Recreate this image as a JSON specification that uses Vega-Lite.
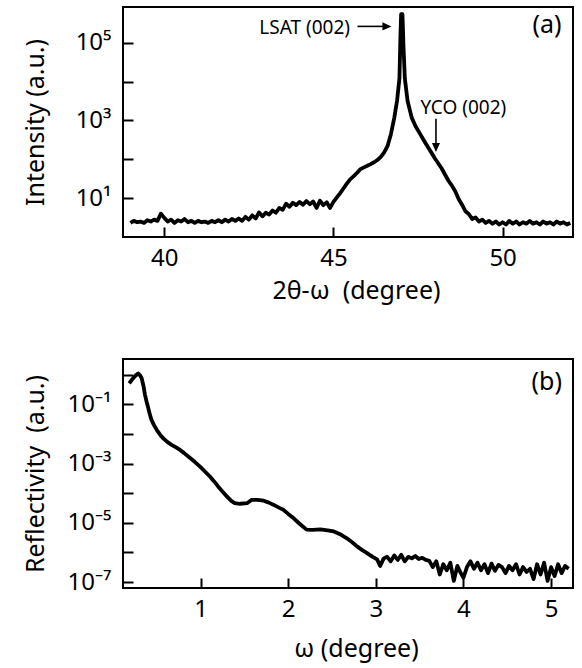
{
  "$schema": "https://vega.github.io/schema/vega-lite/v6.json",
  "background": "white",
  "padding": {"left": 22, "top": 6, "right": 5, "bottom": 5},
  "spacing": 54,
  "config": {
    "font": "Noto Sans",
    "view": {"stroke": "black", "strokeWidth": 2},
    "axis": {
      "domain": false,
      "grid": false,
      "ticks": true,
      "tickSize": 10,
      "tickWidth": 2,
      "tickColor": "black",
      "offset": -10,
      "labelColor": "black",
      "labelFont": "Noto Sans",
      "labelFontSize": 24,
      "labelOverlap": false,
      "labelFlush": false,
      "titleFont": "Noto Sans",
      "titleFontSize": 25,
      "titleFontWeight": "normal",
      "titleColor": "black",
      "zindex": 1
    },
    "axisX": {"labelBaseline": "alphabetic", "labelPadding": 28},
    "axisY": {"labelBaseline": "middle", "labelPadding": 12}
  },
  "datasets": {
    "xrd": [
      {"x": 39.0, "y": 2.3}, {"x": 39.1, "y": 2.6}, {"x": 39.2, "y": 2.4}, {"x": 39.3, "y": 2.5}, {"x": 39.4, "y": 2.3},
      {"x": 39.5, "y": 2.7}, {"x": 39.6, "y": 2.5}, {"x": 39.7, "y": 2.8}, {"x": 39.8, "y": 2.6}, {"x": 39.9, "y": 4.0},
      {"x": 40.0, "y": 3.1}, {"x": 40.1, "y": 2.5}, {"x": 40.2, "y": 2.8}, {"x": 40.3, "y": 2.3}, {"x": 40.4, "y": 2.7},
      {"x": 40.5, "y": 2.5}, {"x": 40.6, "y": 2.9}, {"x": 40.7, "y": 2.4}, {"x": 40.8, "y": 2.6}, {"x": 40.9, "y": 2.3},
      {"x": 41.0, "y": 2.6}, {"x": 41.1, "y": 2.4}, {"x": 41.2, "y": 2.5}, {"x": 41.3, "y": 2.3}, {"x": 41.4, "y": 2.6},
      {"x": 41.5, "y": 2.4}, {"x": 41.6, "y": 2.7}, {"x": 41.7, "y": 2.4}, {"x": 41.8, "y": 2.8}, {"x": 41.9, "y": 2.5},
      {"x": 42.0, "y": 2.9}, {"x": 42.1, "y": 2.6}, {"x": 42.2, "y": 3.0}, {"x": 42.3, "y": 2.6}, {"x": 42.4, "y": 3.3},
      {"x": 42.5, "y": 2.8}, {"x": 42.6, "y": 3.6}, {"x": 42.7, "y": 3.0}, {"x": 42.8, "y": 4.3}, {"x": 42.9, "y": 3.4},
      {"x": 43.0, "y": 4.2}, {"x": 43.1, "y": 3.8}, {"x": 43.2, "y": 4.8}, {"x": 43.3, "y": 4.2}, {"x": 43.4, "y": 5.6},
      {"x": 43.5, "y": 5.0}, {"x": 43.6, "y": 7.2}, {"x": 43.7, "y": 6.0}, {"x": 43.8, "y": 7.6}, {"x": 43.9, "y": 6.6},
      {"x": 44.0, "y": 8.0}, {"x": 44.1, "y": 6.8}, {"x": 44.2, "y": 8.4}, {"x": 44.3, "y": 7.0}, {"x": 44.4, "y": 8.2},
      {"x": 44.5, "y": 5.6}, {"x": 44.6, "y": 8.6}, {"x": 44.7, "y": 6.6}, {"x": 44.8, "y": 7.8}, {"x": 44.9, "y": 5.6},
      {"x": 45.0, "y": 8.0}, {"x": 45.1, "y": 10.5}, {"x": 45.2, "y": 13.5}, {"x": 45.3, "y": 18}, {"x": 45.4, "y": 24},
      {"x": 45.5, "y": 31}, {"x": 45.6, "y": 37}, {"x": 45.7, "y": 45}, {"x": 45.8, "y": 56}, {"x": 45.9, "y": 62},
      {"x": 46.0, "y": 68}, {"x": 46.1, "y": 75}, {"x": 46.2, "y": 84}, {"x": 46.3, "y": 96}, {"x": 46.4, "y": 115},
      {"x": 46.5, "y": 150}, {"x": 46.6, "y": 220}, {"x": 46.7, "y": 450}, {"x": 46.8, "y": 1200}, {"x": 46.88, "y": 3200},
      {"x": 46.95, "y": 12000}, {"x": 46.98, "y": 150000}, {"x": 47.0, "y": 540000}, {"x": 47.04, "y": 540000}, {"x": 47.07, "y": 80000},
      {"x": 47.11, "y": 12000}, {"x": 47.19, "y": 3200}, {"x": 47.31, "y": 1200}, {"x": 47.43, "y": 700}, {"x": 47.56, "y": 450},
      {"x": 47.7, "y": 280}, {"x": 47.86, "y": 165}, {"x": 48.0, "y": 105}, {"x": 48.1, "y": 78}, {"x": 48.2, "y": 58},
      {"x": 48.3, "y": 40}, {"x": 48.4, "y": 28}, {"x": 48.5, "y": 21}, {"x": 48.6, "y": 15}, {"x": 48.7, "y": 9.5},
      {"x": 48.8, "y": 6.8}, {"x": 48.9, "y": 4.6}, {"x": 49.0, "y": 3.9}, {"x": 49.1, "y": 2.9}, {"x": 49.2, "y": 3.2},
      {"x": 49.3, "y": 2.5}, {"x": 49.4, "y": 2.8}, {"x": 49.5, "y": 2.3}, {"x": 49.6, "y": 2.6}, {"x": 49.7, "y": 2.2},
      {"x": 49.8, "y": 2.5}, {"x": 49.9, "y": 2.1}, {"x": 50.0, "y": 2.4}, {"x": 50.1, "y": 2.1}, {"x": 50.2, "y": 2.6},
      {"x": 50.3, "y": 2.2}, {"x": 50.4, "y": 2.5}, {"x": 50.5, "y": 2.1}, {"x": 50.6, "y": 2.4}, {"x": 50.7, "y": 2.2},
      {"x": 50.8, "y": 2.6}, {"x": 50.9, "y": 2.2}, {"x": 51.0, "y": 2.4}, {"x": 51.1, "y": 2.1}, {"x": 51.2, "y": 2.5},
      {"x": 51.3, "y": 2.2}, {"x": 51.4, "y": 2.4}, {"x": 51.5, "y": 2.1}, {"x": 51.6, "y": 2.5}, {"x": 51.7, "y": 2.2},
      {"x": 51.8, "y": 2.4}, {"x": 51.9, "y": 2.1}, {"x": 52.0, "y": 2.3}
    ],
    "xrr": [
      {"x": 0.186, "y": 0.51}, {"x": 0.22, "y": 0.7}, {"x": 0.26, "y": 0.95}, {"x": 0.289, "y": 1.1}, {"x": 0.31, "y": 0.95},
      {"x": 0.328, "y": 0.76}, {"x": 0.35, "y": 0.4}, {"x": 0.366, "y": 0.21}, {"x": 0.385, "y": 0.12}, {"x": 0.404, "y": 0.074},
      {"x": 0.42, "y": 0.047}, {"x": 0.44, "y": 0.03}, {"x": 0.47, "y": 0.0195}, {"x": 0.5, "y": 0.0138}, {"x": 0.54, "y": 0.0093},
      {"x": 0.575, "y": 0.0071}, {"x": 0.62, "y": 0.0054}, {"x": 0.67, "y": 0.0043}, {"x": 0.72, "y": 0.0035}, {"x": 0.766, "y": 0.0029},
      {"x": 0.81, "y": 0.0023}, {"x": 0.86, "y": 0.00174}, {"x": 0.93, "y": 0.00117}, {"x": 0.994, "y": 0.00079}, {"x": 1.05, "y": 0.00054},
      {"x": 1.109, "y": 0.00036}, {"x": 1.155, "y": 0.00025}, {"x": 1.2, "y": 0.00017}, {"x": 1.25, "y": 0.000115}, {"x": 1.3, "y": 7.8e-5},
      {"x": 1.35, "y": 5.5e-5}, {"x": 1.39, "y": 4.6e-5}, {"x": 1.45, "y": 4.4e-5}, {"x": 1.53, "y": 4.6e-5}, {"x": 1.585, "y": 6.0e-5},
      {"x": 1.65, "y": 6.0e-5}, {"x": 1.72, "y": 5.6e-5}, {"x": 1.78, "y": 4.8e-5}, {"x": 1.83, "y": 4.1e-5}, {"x": 1.9, "y": 3.2e-5},
      {"x": 1.946, "y": 2.75e-5}, {"x": 2.0, "y": 2.0e-5}, {"x": 2.06, "y": 1.45e-5}, {"x": 2.13, "y": 9.3e-6}, {"x": 2.21, "y": 5.9e-6},
      {"x": 2.28, "y": 5.8e-6}, {"x": 2.366, "y": 6.0e-6}, {"x": 2.45, "y": 5.6e-6}, {"x": 2.52, "y": 5.1e-6}, {"x": 2.6, "y": 4.0e-6},
      {"x": 2.67, "y": 3.0e-6}, {"x": 2.73, "y": 2.2e-6}, {"x": 2.785, "y": 1.6e-6}, {"x": 2.85, "y": 1.17e-6}, {"x": 2.9, "y": 9.5e-7},
      {"x": 2.96, "y": 7.2e-7}, {"x": 3.014, "y": 5.8e-7}, {"x": 3.05, "y": 3.5e-7}, {"x": 3.09, "y": 6.3e-7}, {"x": 3.13, "y": 7.1e-7},
      {"x": 3.17, "y": 5.0e-7}, {"x": 3.21, "y": 7.9e-7}, {"x": 3.25, "y": 5.6e-7}, {"x": 3.29, "y": 8.3e-7}, {"x": 3.33, "y": 5.0e-7},
      {"x": 3.37, "y": 7.1e-7}, {"x": 3.41, "y": 6.3e-7}, {"x": 3.45, "y": 7.6e-7}, {"x": 3.49, "y": 6.0e-7}, {"x": 3.53, "y": 6.6e-7},
      {"x": 3.57, "y": 5.6e-7}, {"x": 3.61, "y": 5.2e-7}, {"x": 3.65, "y": 3.2e-7}, {"x": 3.69, "y": 5.0e-7}, {"x": 3.73, "y": 1.8e-7},
      {"x": 3.77, "y": 4.0e-7}, {"x": 3.81, "y": 2.5e-7}, {"x": 3.85, "y": 4.5e-7}, {"x": 3.89, "y": 1.1e-7}, {"x": 3.93, "y": 3.5e-7},
      {"x": 3.97, "y": 2.0e-7}, {"x": 4.0, "y": 1.4e-7}, {"x": 4.04, "y": 3.2e-7}, {"x": 4.08, "y": 5.0e-7}, {"x": 4.12, "y": 2.8e-7},
      {"x": 4.16, "y": 4.5e-7}, {"x": 4.2, "y": 2.5e-7}, {"x": 4.24, "y": 4.0e-7}, {"x": 4.28, "y": 2.0e-7}, {"x": 4.32, "y": 4.2e-7},
      {"x": 4.36, "y": 2.4e-7}, {"x": 4.4, "y": 3.8e-7}, {"x": 4.44, "y": 3.2e-7}, {"x": 4.48, "y": 2.0e-7}, {"x": 4.52, "y": 3.5e-7},
      {"x": 4.56, "y": 2.5e-7}, {"x": 4.6, "y": 4.0e-7}, {"x": 4.64, "y": 1.8e-7}, {"x": 4.68, "y": 3.2e-7}, {"x": 4.72, "y": 2.2e-7},
      {"x": 4.76, "y": 2.8e-7}, {"x": 4.8, "y": 1.26e-7}, {"x": 4.84, "y": 4.0e-7}, {"x": 4.88, "y": 1.8e-7}, {"x": 4.92, "y": 4.5e-7},
      {"x": 4.96, "y": 1.1e-7}, {"x": 5.0, "y": 3.2e-7}, {"x": 5.04, "y": 1.6e-7}, {"x": 5.08, "y": 4.0e-7}, {"x": 5.12, "y": 2.0e-7},
      {"x": 5.16, "y": 3.5e-7}, {"x": 5.2, "y": 2.8e-7}
    ]
  },
  "vconcat": [
    {
      "width": 450,
      "height": 230,
      "encoding": {
        "x": {
          "field": "x", "type": "quantitative",
          "scale": {"domain": [38.78, 52.08], "nice": false, "zero": false},
          "axis": {"values": [40, 45, 50], "title": "2θ-ω\u00a0 (degree)", "titleX": 233, "titleY": 71, "titleBaseline": "alphabetic"}
        },
        "y": {
          "field": "y", "type": "quantitative",
          "scale": {"type": "log", "domain": [1, 830000], "nice": false},
          "axis": {
            "values": [10, 100, 1000, 10000, 100000],
            "labelExpr": "datum.value == 10 ? '10¹' : datum.value == 1000 ? '10³' : datum.value == 100000 ? '10⁵' : ''",
            "title": "Intensity (a.u.)", "titleX": -90, "titleBaseline": "alphabetic", "titleAngle": 270
          }
        }
      },
      "layer": [
        {"data": {"name": "xrd"}, "mark": {"type": "line", "color": "black", "strokeWidth": 3.8, "strokeJoin": "round", "clip": true}},
        {
          "data": {"values": [{"x": 44.15, "y": 245000, "label": "LSAT (002)"}, {"x": 48.84, "y": 2090, "label": "YCO (002)"}]},
          "mark": {"type": "text", "fontSize": 19, "color": "black", "baseline": "middle", "align": "center"},
          "encoding": {"text": {"field": "label"}}
        },
        {
          "data": {"values": [{"x": 51.31, "y": 279000, "label": "(a)"}]},
          "mark": {"type": "text", "fontSize": 25, "color": "black", "baseline": "middle", "align": "center"},
          "encoding": {"text": {"field": "label"}}
        },
        {
          "data": {"values": [{"x": 45.71, "y": 263000, "x_end": 46.55, "y_end": 263000}, {"x": 48.03, "y": 1100, "x_end": 48.03, "y_end": 190}]},
          "mark": {"type": "rule", "color": "black", "strokeWidth": 1.6},
          "encoding": {"x2": {"field": "x_end"}, "y2": {"field": "y_end"}}
        },
        {
          "data": {"values": [{"x": 46.58, "y": 263000}]},
          "mark": {"type": "point", "shape": "M1,0L-1,-0.9L-1,0.9Z", "size": 81, "filled": true, "color": "black", "opacity": 1}
        },
        {
          "data": {"values": [{"x": 48.03, "y": 200}]},
          "mark": {"type": "point", "shape": "M0,1L-0.9,-1L0.9,-1Z", "size": 81, "filled": true, "color": "black", "opacity": 1}
        }
      ]
    },
    {
      "width": 450,
      "height": 229,
      "encoding": {
        "x": {
          "field": "x", "type": "quantitative",
          "scale": {"domain": [0.115, 5.25], "nice": false, "zero": false},
          "axis": {"values": [1, 2, 3, 4, 5], "title": "ω (degree)", "titleX": 233, "titleY": 78, "titleBaseline": "alphabetic"}
        },
        "y": {
          "field": "y", "type": "quantitative",
          "scale": {"type": "log", "domain": [6.3e-8, 3.4], "nice": false},
          "axis": {
            "values": [1, 0.1, 0.01, 0.001, 0.0001, 0.00001, 0.000001, 0.0000001],
            "labelExpr": "round(log(datum.value)/LN10) == -1 ? '10⁻¹' : round(log(datum.value)/LN10) == -3 ? '10⁻³' : round(log(datum.value)/LN10) == -5 ? '10⁻⁵' : round(log(datum.value)/LN10) == -7 ? '10⁻⁷' : ''",
            "title": "Reflectivity\u00a0 (a.u.)", "titleX": -90, "titleBaseline": "alphabetic", "titleAngle": 270
          }
        }
      },
      "layer": [
        {"data": {"name": "xrr"}, "mark": {"type": "line", "color": "black", "strokeWidth": 3.8, "strokeJoin": "round", "clip": true}},
        {
          "data": {"values": [{"x": 4.95, "y": 0.58, "label": "(b)"}]},
          "mark": {"type": "text", "fontSize": 25, "color": "black", "baseline": "middle", "align": "center"},
          "encoding": {"text": {"field": "label"}}
        }
      ]
    }
  ]
}
